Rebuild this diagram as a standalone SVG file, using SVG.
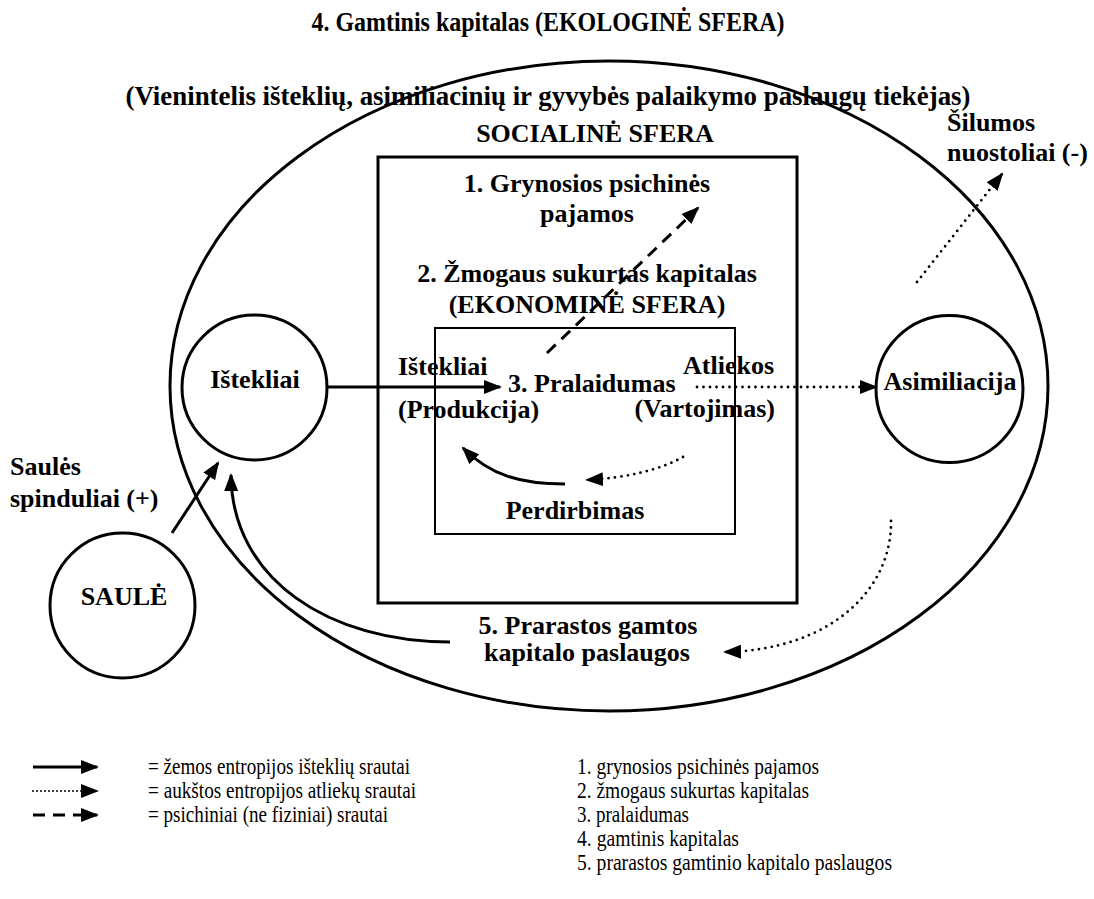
<svg xmlns="http://www.w3.org/2000/svg" width="1094" height="899" viewBox="0 0 1094 899">
<style>
.b{font-family:"Liberation Serif","Times New Roman",serif;font-weight:bold;font-size:26px;fill:#000}
.t{font-family:"Liberation Serif","Times New Roman",serif;font-weight:bold;font-size:28px;fill:#000}
.r{font-family:"Liberation Serif","Times New Roman",serif;font-size:24px;fill:#000}
.shape{fill:none;stroke:#000}
.solid{fill:none;stroke:#000;stroke-width:3}
.dot{fill:none;stroke:#000;stroke-width:2.8;stroke-linecap:round;stroke-dasharray:0 6.5}
.dash{fill:none;stroke:#000;stroke-width:3;stroke-dasharray:12 8}
</style>
<defs>
<marker id="ah" viewBox="0 0 18 14" refX="16" refY="7" markerWidth="18" markerHeight="14" markerUnits="userSpaceOnUse" orient="auto">
<path d="M0,0 L18,7 L0,14 z" fill="#000"/>
</marker>
</defs>
<rect width="1094" height="899" fill="#fff"/>
<g id="titles">
<text class="t" x="548" y="31" text-anchor="middle" textLength="473" lengthAdjust="spacingAndGlyphs">4. Gamtinis kapitalas (EKOLOGINĖ SFERA)</text>
<text class="t" x="548" y="105" text-anchor="middle" textLength="845" lengthAdjust="spacingAndGlyphs">(Vienintelis išteklių, asimiliacinių ir gyvybės palaikymo paslaugų tiekėjas)</text>
</g>
<g id="ecosphere">
<ellipse class="shape" cx="609" cy="386" rx="439" ry="325" stroke-width="3"/>
</g>
<g id="social-sphere">
<text class="b" x="595" y="142" text-anchor="middle">SOCIALINĖ SFERA</text>
<rect class="shape" x="378" y="157" width="419" height="446" stroke-width="3"/>
<text class="b" x="587" y="192" text-anchor="middle">1. Grynosios psichinės</text>
<text class="b" x="587" y="222" text-anchor="middle">pajamos</text>
<text class="b" x="587" y="282" text-anchor="middle">2. Žmogaus sukurtas kapitalas</text>
<text class="b" x="587" y="313" text-anchor="middle">(EKONOMINĖ SFERA)</text>
</g>
<g id="economic-sphere">
<rect class="shape" x="435" y="328" width="300" height="206" stroke-width="2"/>
<text class="b" x="398" y="375">Ištekliai</text>
<text class="b" x="398" y="418">(Produkcija)</text>
<text class="b" x="508" y="392">3. Pralaidumas</text>
<text class="b" x="683" y="374">Atliekos</text>
<text class="b" x="775" y="417" text-anchor="end">(Vartojimas)</text>
<text class="b" x="575" y="519" text-anchor="middle">Perdirbimas</text>
</g>
<g id="istekliai">
<circle class="shape" cx="254.5" cy="387.5" r="72.5" stroke-width="3"/>
<text class="b" x="255" y="388" text-anchor="middle">Ištekliai</text>
</g>
<g id="asimiliacija">
<circle class="shape" cx="949.5" cy="389" r="73.5" stroke-width="3"/>
<text class="b" x="950" y="390" text-anchor="middle">Asimiliacija</text>
</g>
<g id="saule">
<circle class="shape" cx="122.5" cy="605.5" r="72.5" stroke-width="3"/>
<text class="b" x="124" y="605" text-anchor="middle">SAULĖ</text>
</g>
<g id="labels">
<text class="b" x="10" y="475">Saulės</text>
<text class="b" x="10" y="507">spinduliai (+)</text>
<text class="b" x="947" y="131">Šilumos</text>
<text class="b" x="947" y="161">nuostoliai (-)</text>
<text class="b" x="588" y="634" text-anchor="middle">5. Prarastos gamtos</text>
<text class="b" x="587" y="661" text-anchor="middle">kapitalo paslaugos</text>
</g>
<g id="connectors">
<path class="solid" d="M327,387 L500,387" marker-end="url(#ah)"/>
<path class="dot" d="M697,387 L876,387" marker-end="url(#ah)"/>
<path class="dash" d="M547,353 L698,208" marker-end="url(#ah)"/>
<path class="solid" d="M565,484 C520,484 490,475 463,448" marker-end="url(#ah)"/>
<path class="dot" d="M683,457 C660,470 625,478 587,480" marker-end="url(#ah)"/>
<path class="dot" d="M917,282 L1002,174" marker-end="url(#ah)"/>
<path class="dot" d="M891,521 C892,590 830,650 725,652" marker-end="url(#ah)"/>
<path class="solid" d="M450,642 C330,642 232,580 231,475" marker-end="url(#ah)"/>
<path class="solid" d="M172,533 L218,463" marker-end="url(#ah)"/>
</g>
<g id="legend">
<path class="solid" d="M33,767 L97,767" marker-end="url(#ah)"/>
<path class="dot" d="M33,791 L97,791" style="stroke-width:2;stroke-dasharray:0 4" marker-end="url(#ah)"/>
<path class="dash" d="M33,815 L97,815" marker-end="url(#ah)"/>
<text class="r" x="148" y="774" textLength="262" lengthAdjust="spacingAndGlyphs">= žemos entropijos išteklių srautai</text>
<text class="r" x="148" y="798" textLength="268" lengthAdjust="spacingAndGlyphs">= aukštos entropijos atliekų srautai</text>
<text class="r" x="148" y="822" textLength="240" lengthAdjust="spacingAndGlyphs">= psichiniai (ne fiziniai) srautai</text>
<text class="r" x="577" y="774" textLength="242" lengthAdjust="spacingAndGlyphs">1. grynosios psichinės pajamos</text>
<text class="r" x="577" y="798" textLength="232" lengthAdjust="spacingAndGlyphs">2. žmogaus sukurtas kapitalas</text>
<text class="r" x="577" y="822" textLength="112" lengthAdjust="spacingAndGlyphs">3. pralaidumas</text>
<text class="r" x="577" y="846" textLength="162" lengthAdjust="spacingAndGlyphs">4. gamtinis kapitalas</text>
<text class="r" x="577" y="870" textLength="315" lengthAdjust="spacingAndGlyphs">5. prarastos gamtinio kapitalo paslaugos</text>
</g>
</svg>
